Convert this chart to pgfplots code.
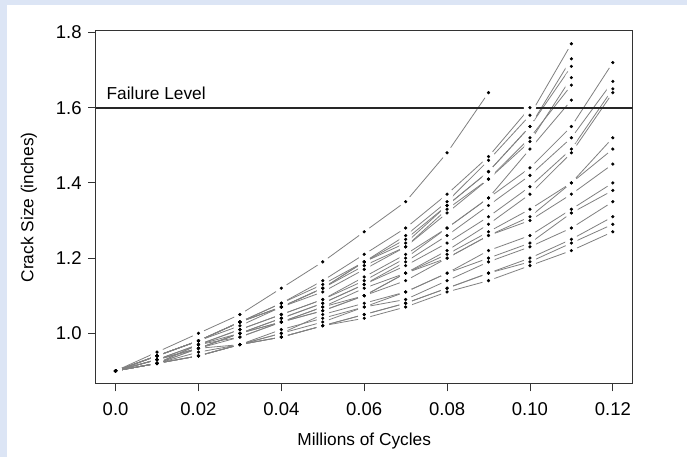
\documentclass[border=0pt]{standalone}
\usepackage{fontspec}
\setmainfont{Liberation Sans}
\usepackage{pgfplots}
\usepackage{pgfplotstable}
\pgfplotsset{compat=1.18}
\definecolor{bgblue}{HTML}{DCE5F5}

\pgfplotstableread{
x    p1   p2   p3   p4   p5   p6   p7   p8   p9   p10  p11  p12  p13  p14  p15  p16  p17  p18  p19  p20  p21
0.00 0.90 0.90 0.90 0.90 0.90 0.90 0.90 0.90 0.90 0.90 0.90 0.90 0.90 0.90 0.90 0.90 0.90 0.90 0.90 0.90 0.90
0.01 0.95 0.94 0.94 0.94 0.94 0.94 0.94 0.93 0.92 0.92 0.93 0.93 0.92 0.93 0.92 0.92 0.93 0.92 0.92 0.92 0.92
0.02 1.00 0.98 0.98 0.98 0.98 0.98 0.98 0.97 0.97 0.96 0.96 0.97 0.97 0.96 0.96 0.95 0.96 0.94 0.94 0.94 0.94
0.03 1.05 1.03 1.03 1.03 1.03 1.03 1.02 1.01 1.01 1.00 1.00 1.00 0.99 1.00 0.99 0.97 0.97 0.97 0.97 0.97 0.97
0.04 1.12 1.08 1.08 1.07 1.07 1.07 1.07 1.05 1.05 1.04 1.04 1.03 1.03 1.03 1.03 1.00 1.00 1.01 0.99 0.99 0.99
0.05 1.19 1.14 1.13 1.12 1.12 1.12 1.11 1.09 1.09 1.08 1.08 1.07 1.06 1.07 1.06 1.03 1.05 1.04 1.02 1.02 1.02
0.06 1.27 1.21 1.19 1.19 1.19 1.18 1.17 1.14 1.15 1.13 1.13 1.10 1.10 1.12 1.10 1.07 1.08 1.07 1.05 1.05 1.04
0.07 1.35 1.28 1.26 1.25 1.24 1.23 1.23 1.20 1.21 1.19 1.18 1.16 1.14 1.16 1.16 1.11 1.11 1.09 1.08 1.08 1.07
0.08 1.48 1.37 1.35 1.34 1.34 1.33 1.32 1.28 1.28 1.26 1.24 1.22 1.20 1.20 1.21 1.16 1.16 1.14 1.12 1.12 1.11
0.09 1.64 1.47 1.46 1.43 1.43 1.41 1.41 1.36 1.36 1.34 1.31 1.29 1.26 1.26 1.27 1.22 1.20 1.19 1.16 1.16 1.14
0.10 nan  1.60 1.58 1.55 1.55 1.51 1.52 1.49 1.44 1.42 1.39 1.37 1.31 1.30 1.33 1.26 1.24 1.23 1.20 1.19 1.18
0.11 nan  nan  1.77 1.73 1.71 1.68 1.66 1.62 1.55 1.52 1.49 1.48 1.40 1.37 1.40 1.33 1.32 1.28 1.25 1.24 1.22
0.12 nan  nan  nan  nan  nan  nan  nan  nan  1.72 1.67 1.65 1.64 1.52 1.45 1.49 1.40 1.38 1.35 1.31 1.29 1.27
}\crackdata

\begin{document}
\begin{tikzpicture}[x=1bp,y=1bp]
\fill[bgblue] (0,0) rectangle (687,457);
\fill[white] (7,0) rectangle (687,452);
\begin{axis}[
  at={(95.7bp,73bp)}, anchor=south west,
  scale only axis, width=537bp, height=353.3bp,
  xmin=-0.0048, xmax=0.1248, ymin=0.8652, ymax=1.8048,
  xtick={0,0.02,0.04,0.06,0.08,0.10,0.12},
  xticklabels={0.0,0.02,0.04,0.06,0.08,0.10,0.12},
  ytick={1.0,1.2,1.4,1.6,1.8},
  yticklabels={1.0,1.2,1.4,1.6,1.8},
  tick align=outside, major tick length=7.5bp,
  xtick pos=left, ytick pos=left,
  axis line style={black!80, line width=1bp},
  tick style={black!80, line width=0.8bp},
  font=\fontsize{17.3bp}{20bp}\selectfont,
  tick label style={font=\fontsize{18.5bp}{21bp}\selectfont},
  xticklabel style={yshift=-8bp},
  yticklabel style={xshift=-3bp},
  xlabel={Millions of Cycles}, ylabel={Crack Size (inches)},
  xlabel style={at={(axis description cs:0.5,-0.1727)}, anchor=base},
  ylabel style={at={(axis description cs:-0.1162,0.5)}, anchor=base},
]
\pgfplotsinvokeforeach{1,...,21}{
  \addplot[black!50, line width=0.8bp, mark=none] table[x=x, y=p#1] {\crackdata};
}
\pgfplotsinvokeforeach{1,...,21}{
  \addplot[white, only marks, mark=*, mark size=6bp, mark options={draw=white, fill=white}] table[x=x, y=p#1] {\crackdata};
}
\pgfplotsinvokeforeach{1,...,21}{
  \addplot[black, only marks, mark=*, mark size=1.4bp, mark options={draw=none, fill=black}] table[x=x, y=p#1] {\crackdata};
}
\addplot[black!85, line width=2bp, mark=none] coordinates {(-0.0048,1.6) (0.1248,1.6)};
\node[anchor=base west, inner sep=0pt] at (axis cs:-0.0022,1.621) {Failure Level};
\end{axis}
\end{tikzpicture}
\end{document}
